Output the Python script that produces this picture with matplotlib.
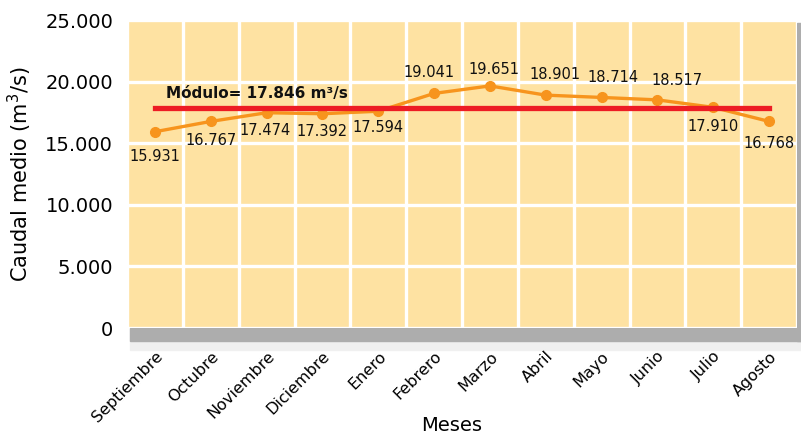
import matplotlib.pyplot as plt
from matplotlib.patches import Rectangle
from matplotlib.ticker import FuncFormatter, MultipleLocator
from matplotlib.transforms import ScaledTranslation
import numpy as np

meses = ['Septiembre', 'Octubre', 'Noviembre', 'Diciembre', 'Enero', 'Febrero',
         'Marzo', 'Abril', 'Mayo', 'Junio', 'Julio', 'Agosto']
caudal = [15931, 16767, 17474, 17392, 17594, 19041,
          19651, 18901, 18714, 18517, 17910, 16768]
modulo = 17846
yticks = [0, 5000, 10000, 15000, 20000, 25000]

# label offsets in points (dx, dy)
offs = [(0, -18), (0, -14), (-1, -13), (0, -13), (0, -12), (-4, 15),
        (3, 12), (7, 15), (8, 14), (14, 14), (0, -14), (0, -16)]

def miles(v, pos=None):
    return f'{int(v):,}'.replace(',', '.')

fig = plt.figure(figsize=(8.01, 4.37), dpi=100)
ax = fig.add_axes([127/801, 1-328/437, 670/801, 308/437])
ax.set_zorder(2)

# drop shadow behind plot area
fig.patches.append(Rectangle((130/801, 1-350/437), 671/801, 22/437, transform=fig.transFigure,
                             color='#f0f0f0', zorder=0))
fig.patches.append(Rectangle((130/801, 1-341/437), 671/801, 13/437, transform=fig.transFigure,
                             color='#adadad', zorder=0))
fig.patches.append(Rectangle((797/801, 1-341/437), 4/801, 318/437, transform=fig.transFigure,
                             color='#adadad', zorder=0))

x = np.arange(len(meses))
ax.set_facecolor('#fee2a2')
ax.set_xlim(-0.5, 11.5)
ax.set_ylim(0, 25000)

ax.plot(x, caudal, color='#f7941d', lw=2.4, marker='o', ms=7, zorder=3)
ax.plot([x[0], x[-1]], [modulo, modulo], color='#ed1c24', lw=3.8, zorder=4)

for xi, v, (dx, dy) in zip(x, caudal, offs):
    ax.annotate(miles(v), (xi, v), xytext=(dx, dy), textcoords='offset points',
                ha='center', va='center', fontsize=10.5, color='#111111', zorder=5)

ax.annotate('Módulo= ' + miles(modulo) + ' m³/s', (0.2, modulo), xytext=(0, 5),
            textcoords='offset points', ha='left', va='bottom', fontsize=11,
            fontweight='bold', color='#111111', zorder=5)

ax.set_yticks(yticks)
ax.yaxis.set_major_formatter(FuncFormatter(miles))
ax.set_xticks(x)
ax.set_xticklabels(meses, rotation=45, ha='right', rotation_mode='anchor', fontsize=11.5)
shift = ScaledTranslation(10/100, 0, fig.dpi_scale_trans)
for lbl in ax.get_xticklabels():
    lbl.set_transform(lbl.get_transform() + shift)
ax.xaxis.set_minor_locator(MultipleLocator(1, offset=0.5))
ax.tick_params(axis='y', labelsize=14, length=0, pad=10)
ax.tick_params(axis='x', length=0, pad=15)
ax.tick_params(which='minor', length=0)

ax.grid(True, axis='y', which='major', color='white', lw=2.4)
ax.grid(True, axis='x', which='minor', color='white', lw=2.4)
ax.grid(False, axis='x', which='major')
ax.set_axisbelow(True)
for s in ax.spines.values():
    s.set_visible(False)

ax.set_ylabel('Caudal medio (m$^3$/s)', fontsize=15, labelpad=8)
ax.set_xlabel('Meses', fontsize=14)
ax.xaxis.set_label_coords(0.485, -0.285)

fig.savefig('out.png', dpi=100)
